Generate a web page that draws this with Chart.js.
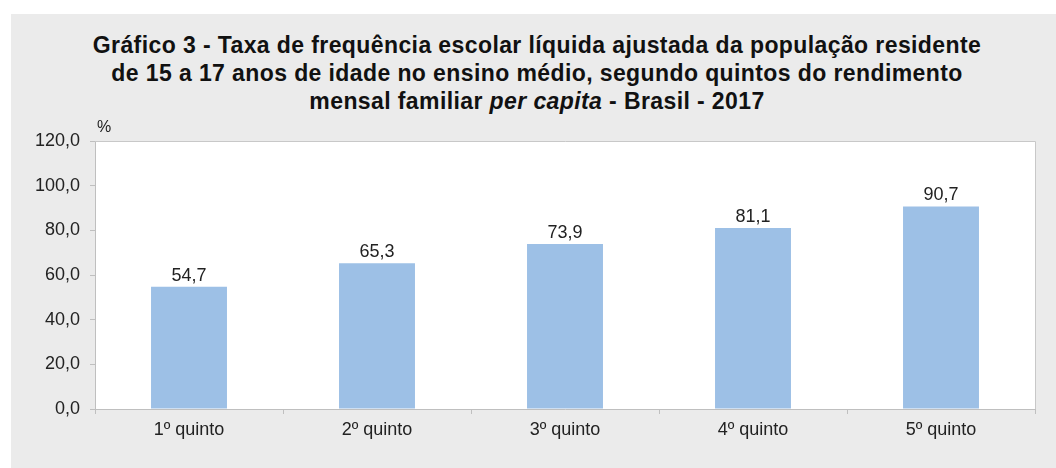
<!DOCTYPE html>
<html>
<head>
<meta charset="utf-8">
<script src="https://cdn.jsdelivr.net/npm/chart.js@4"></script>
<style>
  body { margin: 0; background: #fff; font-family: "Liberation Sans", Arial, sans-serif; }
  #panel { position: absolute; left: 11px; top: 14px; width: 1045px; height: 454px; background: #ebebeb; }
  #title { position: absolute; left: 0; top: 31px; width: 1074px; text-align: center;
           font-size: 23px; font-weight: bold; line-height: 28px; letter-spacing: 0.4px; color: #111; }
  #wrap { position: absolute; left: 11px; top: 114px; width: 1045px; height: 354px; }
</style>
</head>
<body>
<div id="panel"></div>
<div id="title">Gráfico 3 - Taxa de frequência escolar líquida ajustada da população residente<br>
de 15 a 17 anos de idade no ensino médio, segundo quintos do rendimento<br>
mensal familiar <i>per capita</i> - Brasil - 2017</div>
<div id="wrap"><canvas id="myChart"></canvas></div>
<script>
const quintos = ["1º quinto", "2º quinto", "3º quinto", "4º quinto", "5º quinto"];
const taxa = [54.7, 65.3, 73.9, 81.1, 90.7];
const yTicks = [0, 20, 40, 60, 80, 100, 120];

const fmt = v => v.toFixed(1).replace(".", ",");
const font = "'Liberation Sans', Arial, sans-serif";
const lineGray = "#bfbfbf";

// white plot area, outline, value labels and the "%" unit
const extras = {
    id: "extras",
    beforeDraw(chart) {
        const { ctx, chartArea: a } = chart;
        ctx.save();
        ctx.fillStyle = "#fff";
        ctx.fillRect(a.left, a.top, a.right - a.left, a.bottom - a.top);
        ctx.restore();
    },
    afterDraw(chart) {
        const { ctx, chartArea: a } = chart;
        ctx.save();
        ctx.strokeStyle = "#c8c8c8";
        ctx.lineWidth = 1;
        ctx.beginPath();
        ctx.moveTo(a.left, a.top + 0.5);
        ctx.lineTo(a.right + 0.5, a.top + 0.5);
        ctx.lineTo(a.right + 0.5, a.bottom);
        ctx.stroke();

        ctx.fillStyle = "#222";
        ctx.font = "18px " + font;
        ctx.textAlign = "center";
        ctx.textBaseline = "middle";
        chart.getDatasetMeta(0).data.forEach((bar, i) => {
            ctx.fillText(fmt(taxa[i]), bar.x, bar.y - 11);
        });

        ctx.font = "16px " + font;
        ctx.textAlign = "left";
        ctx.fillText("%", a.left + 2, a.top - 13);
        ctx.restore();
    }
};

const ctx = document.getElementById("myChart").getContext("2d");
const myChart = new Chart(ctx, {
    type: "bar",
    data: {
        labels: quintos,
        datasets: [{
            data: taxa,
            backgroundColor: "#9dc0e6",
            barPercentage: 0.404,
            categoryPercentage: 1
        }]
    },
    plugins: [extras],
    options: {
        responsive: true,
        maintainAspectRatio: false,
        animation: false,
        layout: { padding: { left: 0, right: 21, top: 27, bottom: 0 } },
        plugins: {
            legend: { display: false },
            tooltip: { enabled: false }
        },
        scales: {
            x: {
                grid: { drawOnChartArea: false, drawTicks: true, tickLength: 5, color: lineGray },
                border: { color: lineGray },
                ticks: { color: "#222", font: { family: font, size: 18 }, padding: 5, maxRotation: 0 },
                afterFit: s => { s.height = 59; }
            },
            y: {
                min: 0,
                max: 120,
                afterBuildTicks: s => { s.ticks = yTicks.map(v => ({ value: v })); },
                grid: { drawOnChartArea: false, drawTicks: true, tickLength: 5, color: lineGray },
                border: { color: lineGray },
                ticks: { color: "#222", font: { family: font, size: 18 }, padding: 10, callback: v => fmt(v) },
                afterFit: s => { s.width = 84; }
            }
        }
    }
});
</script>
</body>
</html>
